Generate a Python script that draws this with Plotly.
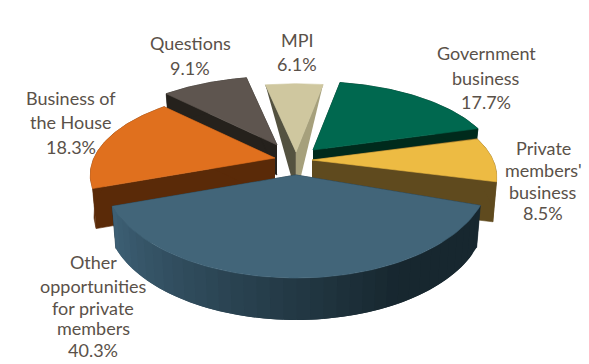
import math
import plotly.graph_objects as go

# ---- data -----------------------------------------------------------------
categories = ["Government business", "Private members' business",
              "Other opportunities for private members", "Business of the House",
              "Questions", "MPI"]
values = [17.7, 8.5, 40.3, 18.3, 9.1, 6.1]
label_lines = [["Government", "business"], ["Private", "members'", "business"],
               ["Other", "opportunities", "for private", "members"],
               ["Business of", "the House"], ["Questions"], ["MPI"]]

# ---- style / layout --------------------------------------------------------
W, H = 589, 364
top_colors = ["#00684f", "#edbb43", "#426579", "#e0701e", "#5e554f", "#cfc79f"]
wall_colors = ["#002a1c", "#5f4a1e", "#1a2a33", "#5a2a08", "#25211c", "#545240"]
text_color = "#5a5149"
START = 10.3
CX, CY = 295, 158
# apex shift (explosion), rim wall depth, apex wall depth, rx, ry, perspective, view rotation
geom = [
    dict(dx=18, dy=-8, d=30, da=30, rx=181, ry=82, k=.2, rot=0),
    dict(dx=17, dy=2, d=40, da=40, rx=181, ry=82, k=.2, rot=0),
    dict(dx=1, dy=17, d=42, da=42, rx=193, ry=103, k=0, rot=2.6),
    dict(dx=-20, dy=0, d=40, da=40, rx=181, ry=82, k=.2, rot=0),
    dict(dx=-18, dy=-13, d=30, da=30, rx=181, ry=82, k=.2, rot=0),
    dict(dx=1, dy=-6, d=0, da=24, rx=181, ry=82, k=.2, rot=0),
]
label_pos = [(486, [53, 78]), (543, [148, 170, 192]),
             (93, [262, 286, 308, 328]), (71, [98, 122]), (190, [43]), (297, [40])]
pct_y = [102, 213, 350, 147, 68, 64]
FONT = dict(family="Lato, Open Sans, sans-serif", size=18, color=text_color)


def rim(g, deg):
    a = math.radians(deg + g["rot"])
    X, Y = math.sin(a), math.cos(a)
    p = 1 / (1 + g["k"] * Y)
    return (g["rx"] * X * p, -g["ry"] * Y * p)


fig = go.Figure()


def poly(xs, ys, color, name, lw=0.6):
    fig.add_trace(go.Scatter(x=xs, y=ys, mode="lines", fill="toself", fillcolor=color,
                             line=dict(color=color, width=lw), name=name,
                             hoverinfo="name", showlegend=False))


def lerp_hex(c1, c2, t):
    a = [int(c1[i:i + 2], 16) for i in (1, 3, 5)]
    b = [int(c2[i:i + 2], 16) for i in (1, 3, 5)]
    return "#%02x%02x%02x" % tuple(round(u + (v - u) * t) for u, v in zip(a, b))


# angular extents come from the values
spans, ang = [], START
for v in values:
    sweep = v / sum(values) * 360
    spans.append((ang, ang + sweep))
    ang += sweep

draw_order = [4, 5, 0, 3, 1, 2]
CONV = 0.98
for i in draw_order:
    g, (a0, a1) = geom[i], spans[i]
    name = categories[i]
    ax, ay = CX + g["dx"], CY + g["dy"]
    n = 72
    degs = [a0 + (a1 - a0) * j / n for j in range(n + 1)]
    pts = [rim(g, d) for d in degs]
    tx = [ax + p[0] for p in pts]
    ty = [ay + p[1] for p in pts]
    bx = [ax + p[0] * CONV for p in pts]
    by = [ay + p[1] + g["d"] for p in pts]
    if i == 5:  # the thin wedge: two tinted cut faces meeting at the apex
        poly([tx[0], ax, ax, ax - 5], [ty[0], ay, ay + g["da"], ay + g["da"]], wall_colors[i], name)
        poly([tx[-1], ax, ax, ax + 5], [ty[-1], ay, ay + g["da"], ay + g["da"]], "#a6a07c", name)
    else:
        # cut faces
        poly([ax, tx[0], bx[0], ax], [ay, ty[0], by[0], ay + g["da"]], wall_colors[i], name)
        poly([ax, tx[-1], bx[-1], ax], [ay, ty[-1], by[-1], ay + g["da"]], wall_colors[i], name)
        # outer wall
        if i == 2:
            m = 36
            for j in range(m):
                s = j * n // m
                e = min(n, (j + 1) * n // m + 2)   # overlap the next strip to hide seams
                t = 1 - j / (m - 1)      # 0 at left end, 1 at right end
                col = lerp_hex("#3d5f74", "#17272f", min(1, t / 0.72))
                poly(tx[s:e + 1] + bx[s:e + 1][::-1], ty[s:e + 1] + by[s:e + 1][::-1], col, name, lw=0)
        else:
            poly(tx + bx[::-1], ty + by[::-1], wall_colors[i], name)
    poly([ax] + tx + [ax], [ay] + ty + [ay], top_colors[i], name)

# labels: one real text line per row, percentages taken from the values
ann = []
for i, (x, ys) in enumerate(label_pos):
    for line, y in zip(label_lines[i], ys):
        ann.append(dict(x=x, y=y, text=line, showarrow=False, xanchor="center",
                        yanchor="middle", font=FONT))
    ann.append(dict(x=x, y=pct_y[i], text=f"{values[i]:.1f}%", showarrow=False,
                    xanchor="center", yanchor="middle", font=FONT))

fig.update_layout(
    width=W, height=H, margin=dict(l=0, r=0, t=0, b=0),
    paper_bgcolor="white", plot_bgcolor="white", annotations=ann, showlegend=False,
    xaxis=dict(range=[0, W], visible=False, fixedrange=True),
    yaxis=dict(range=[H, 0], visible=False, fixedrange=True),
)
fig.write_html("out.html", config={"displayModeBar": False},
               post_script="document.body.style.margin='0';document.documentElement.style.overflow='hidden';")
